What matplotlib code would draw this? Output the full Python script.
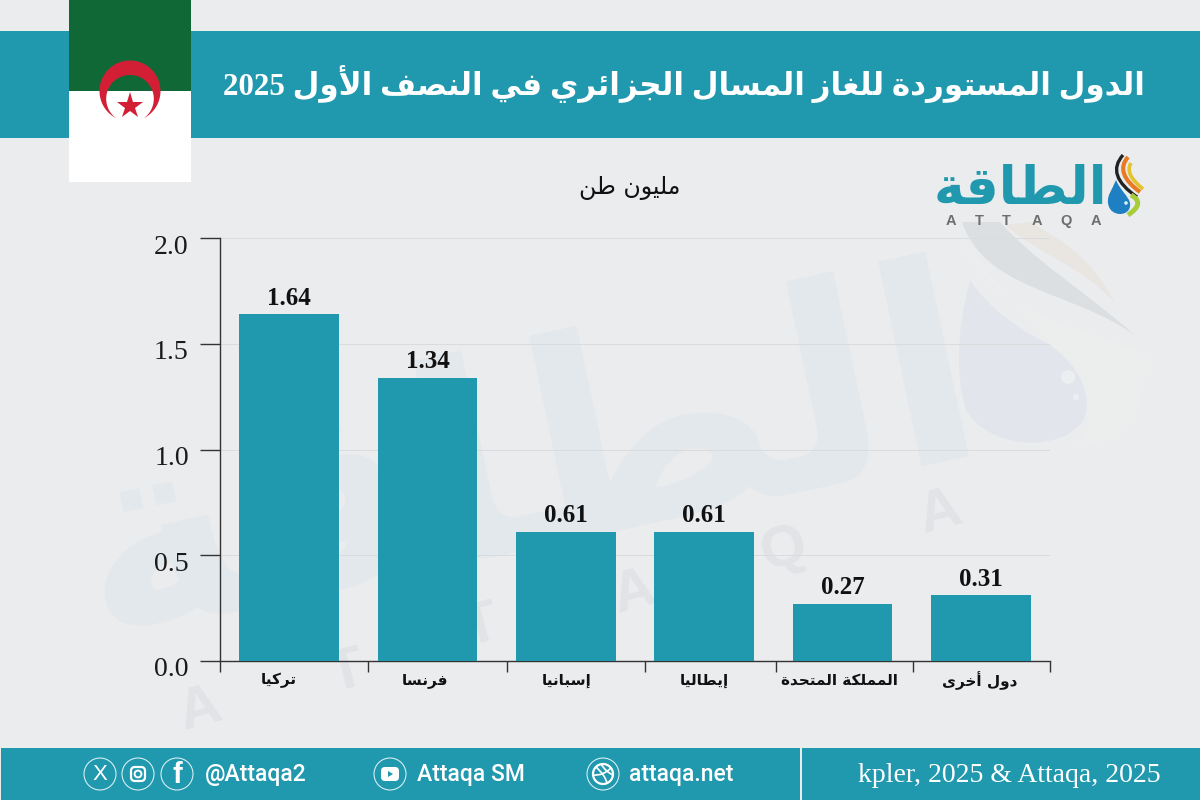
import matplotlib
matplotlib.use("Agg")
import numpy as np
import matplotlib.pyplot as plt
import matplotlib.transforms as mtrans
from matplotlib.patches import Rectangle, Circle, PathPatch, FancyBboxPatch, Polygon
from matplotlib.path import Path

# ---------- data ----------
TITLE = "الدول المستوردة للغاز المسال الجزائري في النصف الأول 2025"
UNIT = "مليون طن"
categories = ["تركيا", "فرنسا", "إسبانيا", "إيطاليا", "المملكة المتحدة", "دول أخرى"]
values = [1.64, 1.34, 0.61, 0.61, 0.27, 0.31]
value_labels = ["1.64", "1.34", "0.61", "0.61", "0.27", "0.31"]
y_ticks = [0.0, 0.5, 1.0, 1.5, 2.0]
LOGO = "الطاقة"
SOURCE = "kpler, 2025 & Attaqa, 2025"

BG = "#EBECEE"
TEAL = "#2098AE"
GREEN = "#106837"
RED = "#D21F35"
SERIF = ["Liberation Serif", "DejaVu Sans"]

# ---------- minimal Arabic shaping (matplotlib does not shape or reorder) ----------
FOUR = {"ئ": 0xFE89, "ب": 0xFE8F, "ت": 0xFE95, "ث": 0xFE99, "ج": 0xFE9D, "ح": 0xFEA1, "خ": 0xFEA5,
        "س": 0xFEB1, "ش": 0xFEB5, "ص": 0xFEB9, "ض": 0xFEBD, "ط": 0xFEC1, "ظ": 0xFEC5, "ع": 0xFEC9,
        "غ": 0xFECD, "ف": 0xFED1, "ق": 0xFED5, "ك": 0xFED9, "ل": 0xFEDD, "م": 0xFEE1, "ن": 0xFEE5,
        "ه": 0xFEE9, "ي": 0xFEF1}
TWO = {"آ": 0xFE81, "أ": 0xFE83, "ؤ": 0xFE85, "إ": 0xFE87, "ا": 0xFE8D, "ة": 0xFE93, "د": 0xFEA9,
       "ذ": 0xFEAB, "ر": 0xFEAD, "ز": 0xFEAF, "و": 0xFEED, "ى": 0xFEEF}
LAM_ALEF = {"ا": 0xFEFB, "أ": 0xFEF7, "إ": 0xFEF9, "آ": 0xFEF5}


def shape(text):
    units = []
    i = 0
    while i < len(text):
        c = text[i]
        if c == "ل" and i + 1 < len(text) and text[i + 1] in LAM_ALEF:
            units.append(("LA", text[i + 1]))
            i += 2
        else:
            units.append(("C", c))
            i += 1

    def joins_next(u):
        return u[0] == "C" and u[1] in FOUR

    def joins_prev(u):
        return u[0] == "LA" or u[1] in FOUR or u[1] in TWO

    out = []
    for k, u in enumerate(units):
        prev_j = k > 0 and joins_next(units[k - 1]) and joins_prev(u)
        next_j = k + 1 < len(units) and joins_next(u) and joins_prev(units[k + 1])
        if u[0] == "LA":
            out.append(chr(LAM_ALEF[u[1]] + (1 if prev_j else 0)))
        elif u[1] in FOUR:
            base = FOUR[u[1]]
            off = 3 if prev_j and next_j else 1 if prev_j else 2 if next_j else 0
            out.append(chr(base + off))
        elif u[1] in TWO:
            out.append(chr(TWO[u[1]] + (1 if prev_j else 0)))
        else:
            out.append(u[1])
    vis = []
    run = ""
    for ch in reversed(out):
        if ch.isdigit():
            run = ch + run
        else:
            if run:
                vis.append(run)
                run = ""
            vis.append(ch)
    if run:
        vis.append(run)
    return "".join(vis)


M, L, C3, C4 = Path.MOVETO, Path.LINETO, Path.CURVE3, Path.CURVE4

# ---------- figure ----------
fig = plt.figure(figsize=(12, 8), dpi=100, facecolor=BG)

deco = fig.add_axes([0, 0, 1, 1], zorder=0)
deco.set_xlim(0, 1200)
deco.set_ylim(800, 0)
deco.axis("off")

# watermark
WM = "#E3E8EC"
deco.text(527, 468, shape(LOGO), fontsize=198, fontweight="bold", family="DejaVu Sans", color=WM,
          rotation=12, rotation_mode="anchor", ha="center", va="center", zorder=1)
for s, (x, y) in zip("ATTAQA", [(200, 710), (347, 673), (481, 627), (634, 593), (784, 550), (940, 513)]):
    deco.text(x, y, s, fontsize=42, fontweight="bold", family="Liberation Sans", color="#E1E3E6",
              rotation=15, ha="center", va="center", zorder=1)

# pale outer swoosh, coloured swooshes, droplet
outer = Path([(958, 235), (990, 320), (1085, 325), (1145, 355), (1150, 440), (1075, 448), (1120, 400), (1040, 340), (958, 235)],
             [M, C4, C4, C4, C3, C3, C4, C4, C4])
deco.add_patch(PathPatch(outer, fc="#ECEEED", ec="none", zorder=1))
grey = Path([(962, 222), (985, 290), (1070, 290), (1135, 335), (1070, 280), (1040, 265), (1000, 222), (962, 222)],
            [M, C4, C4, C4, C4, C4, C4, L])
deco.add_patch(PathPatch(grey, fc="#DCDFE1", ec="none", zorder=1))
orange = Path([(1005, 225), (1040, 255), (1080, 265), (1115, 303), (1090, 255), (1060, 240), (1030, 222), (1005, 225)],
              [M, C4, C4, C4, C4, C4, C4, L])
deco.add_patch(PathPatch(orange, fc="#E9E6E2", ec="none", zorder=1))
drop = Path([(970, 280), (957, 330), (955, 375), (966, 410), (985, 445), (1050, 455), (1080, 425),
             (1095, 405), (1085, 370), (1050, 345), (1020, 330), (990, 310), (970, 280)],
            [M] + [C4] * 12)
deco.add_patch(PathPatch(drop, fc="#E2E6EC", ec="none", zorder=1))
deco.add_patch(Circle((1068, 377), 7, fc="#ECEEF1", ec="none", zorder=1))
deco.add_patch(Circle((1076, 397), 3, fc="#ECEEF1", ec="none", zorder=1))

# header band and title
deco.add_patch(Rectangle((0, 31), 1200, 107, fc=TEAL, ec="none", zorder=2))
deco.text(1145, 84, shape(TITLE), fontsize=22.3, fontweight="bold", family=SERIF, color="white",
          ha="right", va="center", zorder=3)

# flag
deco.add_patch(Rectangle((69, 0), 122, 91, fc=GREEN, ec="none", zorder=4))
deco.add_patch(Rectangle((69, 91), 122, 91, fc="white", ec="none", zorder=4))
a_out = np.arctan2(27, 14)
a_in = np.arctan2(19.2, 14)
t_out = np.linspace(a_out, np.pi - a_out - 2 * np.pi, 120)
t_in = np.linspace(np.pi - a_in - 2 * np.pi, a_in, 120)
cres_x = np.r_[130 + 30.5 * np.cos(t_out), 130 + 23.8 * np.cos(t_in)]
cres_y = np.r_[91 + 30.5 * np.sin(t_out), 98.8 + 23.8 * np.sin(t_in)]
deco.add_patch(Polygon(np.c_[cres_x, cres_y], fc=RED, ec="none", zorder=5))
deco.plot([130], [106], marker="*", ms=20, color=RED, mew=0, zorder=6)

# unit
deco.text(630, 188, shape(UNIT), fontsize=17, family="DejaVu Sans", color="#111111",
          ha="center", va="center", zorder=3)

# logo
deco.text(1020, 190, shape(LOGO), fontsize=37.5, fontweight="bold", family="DejaVu Sans", color=TEAL,
          ha="center", va="center", zorder=3)
for s, x in zip("ATTAQA", [951, 979, 1006, 1037, 1066, 1096]):
    deco.text(x, 221, s, fontsize=10.5, fontweight="bold", family="Liberation Sans", color="#6E6E6E",
              ha="center", va="center", zorder=3)
logo_drop = Path([(1116, 180), (1112, 190), (1107, 195), (1108, 203), (1109, 211), (1115, 214), (1120, 214),
                  (1127, 214), (1131, 209), (1130, 203), (1129, 197), (1120, 190), (1116, 180)], [M] + [C4] * 12)
deco.add_patch(PathPatch(logo_drop, fc="#1E7FC2", ec="none", zorder=4))
for col, lw, pts in [("#222222", 2.4, [(1123, 155), (1105, 175), (1137, 197)]),
                     ("#E87B22", 3, [(1128, 157), (1114, 173), (1140, 192)]),
                     ("#E3C22B", 2.6, [(1131, 163), (1124, 174), (1143, 189)]),
                     ("#A6CC3A", 3.5, [(1131, 195), (1146, 203), (1128, 215)])]:
    deco.add_patch(PathPatch(Path(pts, [M, C3, C3]), fc="none", ec=col, lw=lw, zorder=5))
deco.add_patch(Circle((1126, 203), 1.8, fc="#D9F0F8", ec="none", zorder=6))

# footer
deco.add_patch(Rectangle((1, 748), 799, 52, fc=TEAL, ec="none", zorder=2))
deco.add_patch(Rectangle((802, 748), 398, 52, fc=TEAL, ec="none", zorder=2))
deco.text(1161, 776, SOURCE, fontsize=20, family="Liberation Serif", color="white", ha="right", va="center", zorder=3)
FOOT = dict(fontsize=16.5, fontweight="medium", family="Roboto", color="white", va="center", ha="left", zorder=3)
deco.text(205, 775, "@Attaqa2", **FOOT)
deco.text(417, 775, "Attaqa SM", **FOOT)
deco.text(629, 775, "attaqa.net", **FOOT)
for cx in (100, 138, 177, 390, 603):
    deco.add_patch(Circle((cx, 774), 16, fc="none", ec="#D5EEF3", lw=0.8, zorder=3))
deco.text(100, 774, "X", fontsize=16, family="Liberation Sans", color="white", ha="center", va="center", zorder=4)
deco.add_patch(FancyBboxPatch((131, 767), 14, 14, boxstyle="round,pad=0,rounding_size=4", fc="none", ec="white", lw=1.6, zorder=4))
deco.add_patch(Circle((138, 774), 3.4, fc="none", ec="white", lw=1.4, zorder=4))
deco.text(177, 775, "f", fontsize=21, fontweight="bold", family="Liberation Sans", color="white", ha="center", va="center", zorder=4)
deco.add_patch(FancyBboxPatch((381, 767), 18, 14, boxstyle="round,pad=0,rounding_size=4", fc="white", ec="none", zorder=4))
deco.add_patch(Polygon([(388, 771), (388, 777), (393, 774)], fc=TEAL, ec="none", zorder=5))
deco.add_patch(Circle((603, 774), 10, fc="none", ec="white", lw=1.6, zorder=4))
for pts in ([(596, 767), (605, 775), (607, 783)], [(593, 775), (603, 776), (611, 768)], [(601, 764), (606, 772), (613, 775)]):
    deco.add_patch(PathPatch(Path(pts, [M, C3, C3]), fc="none", ec="white", lw=1.2, zorder=4))

# ---------- chart ----------
ax = fig.add_axes([220 / 1200, 1 - 661 / 800, 830 / 1200, 423 / 800], zorder=2)
ax.patch.set_alpha(0)
n = len(categories)
xs = list(range(n))
ax.bar(xs, values, width=0.72, color=TEAL, zorder=3)
ax.set_xlim(-0.5, n - 0.5)
ax.set_ylim(0, 2)
for x, v, lab in zip(xs, values, value_labels):
    ax.annotate(lab, (x, v), xytext=(0, 3.3), textcoords="offset points", ha="center", va="bottom",
                fontsize=18, fontweight="bold", family="Liberation Serif", color="#111111", zorder=4)

ax.set_yticks(y_ticks)
ax.set_yticklabels([f"{t:.1f}" for t in y_ticks], fontsize=20, family="Liberation Serif", color="#1a1a1a")
ax.tick_params(axis="y", length=14.5, width=1, color="#333333", pad=8)
shift = mtrans.ScaledTranslation(0, -6 / 100, fig.dpi_scale_trans)
for lab in ax.get_yticklabels():
    lab.set_transform(lab.get_transform() + shift)

# the reference's category ticks are unevenly spaced (pixel columns)
ax.set_xticks([(px - 220) / (830 / n) - 0.5 for px in (220, 368, 507, 645, 776, 913, 1050)])
ax.set_xticklabels([])
ax.set_xticks(xs, minor=True)
ax.set_xticklabels([shape(c) for c in categories], minor=True, fontsize=11, fontweight="bold",
                   family="DejaVu Sans", color="#111111", va="center")
ax.tick_params(axis="x", which="major", length=8, width=1, color="#333333")
ax.tick_params(axis="x", which="minor", length=0, pad=14)
for lab, dx in zip(ax.get_xticklabels(minor=True), (-10, -2, 1, 0, -3, -1)):
    lab.set_transform(lab.get_transform() + mtrans.ScaledTranslation(dx / 100, 0, fig.dpi_scale_trans))

ax.grid(axis="y", color="#D9DBDD", lw=0.7, zorder=1)
ax.set_axisbelow(True)
for s in ("top", "right"):
    ax.spines[s].set_visible(False)
for s in ("left", "bottom"):
    ax.spines[s].set_color("#333333")
    ax.spines[s].set_linewidth(1)

fig.savefig("out.png", dpi=100, facecolor=BG)
